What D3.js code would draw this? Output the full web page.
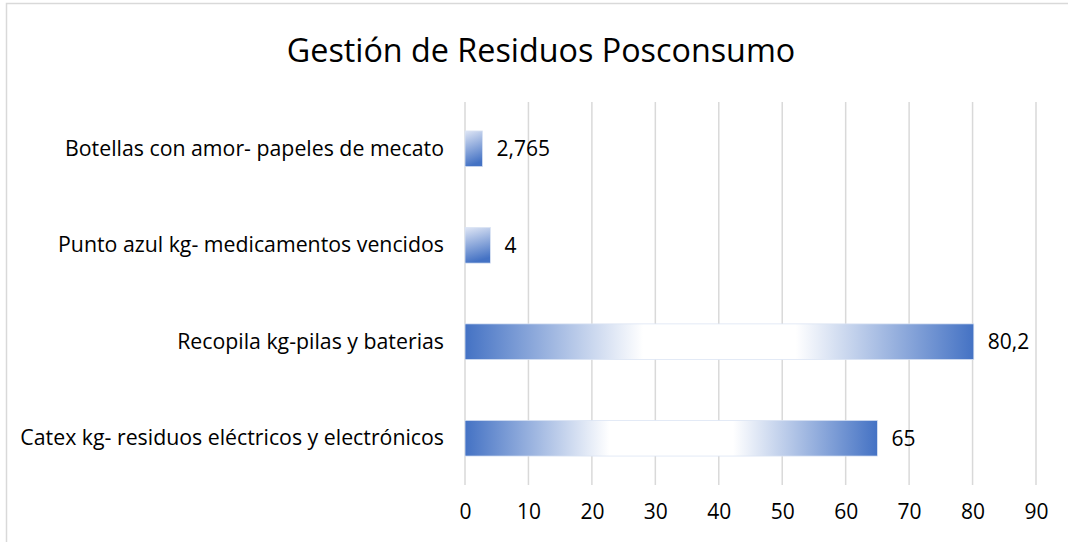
<!DOCTYPE html>
<html>
<head>
<meta charset="utf-8">
<script src="https://cdn.jsdelivr.net/npm/d3@7"></script>
<style>
    body { margin: 0; background: #fff; }
    text { font-family: "Open Sans", sans-serif; fill: #000; }
</style>
</head>
<body>
<div id="vis"></div>
<script>
// Data
var categories = [
    'Botellas con amor- papeles de mecato',
    'Punto azul kg- medicamentos vencidos',
    'Recopila kg-pilas y baterias',
    'Catex kg- residuos eléctricos y electrónicos'
];
var values = [2.765, 4, 80.2, 65];
var xTicks = [0, 10, 20, 30, 40, 50, 60, 70, 80, 90];
var chartTitle = 'Gestión de Residuos Posconsumo';

// Margins of the plot area
var margin = { left: 465, right: 32, top: 102, bottom: 57 };
var totalWidth = 1068, totalHeight = 542;
var width = totalWidth - margin.left - margin.right;
var height = totalHeight - margin.top - margin.bottom;

// Spanish number format: comma as decimal mark
var es = d3.formatLocale({ decimal: ',', thousands: '.', grouping: [3], currency: ['', '€'] });
var fmt = es.format('~g');

var svg = d3.select('#vis')
    .append('svg')
    .attr('width', totalWidth)
    .attr('height', totalHeight);

// Chart border
svg.append('rect')
    .attr('x', 6.5)
    .attr('y', 3.5)
    .attr('width', totalWidth + 10)
    .attr('height', totalHeight + 10)
    .attr('fill', '#fff')
    .attr('stroke', '#d9d9d9')
    .attr('stroke-width', 1.5);

// Gradients: long bars fade to white in the middle, short bars fade vertically
var defs = svg.append('defs');
var gH = defs.append('linearGradient').attr('id', 'gradH')
    .attr('x1', 0).attr('y1', 0).attr('x2', 1).attr('y2', 0);
gH.append('stop').attr('offset', '0%').attr('stop-color', '#4472c4');
gH.append('stop').attr('offset', '35%').attr('stop-color', '#ffffff');
gH.append('stop').attr('offset', '65%').attr('stop-color', '#ffffff');
gH.append('stop').attr('offset', '100%').attr('stop-color', '#4472c4');

var gV = defs.append('linearGradient').attr('id', 'gradV')
    .attr('x1', 0).attr('y1', 0).attr('x2', 0.2).attr('y2', 1);
gV.append('stop').attr('offset', '0%').attr('stop-color', '#dfe6f5');
gV.append('stop').attr('offset', '100%').attr('stop-color', '#4472c4');

// Scales
var xScale = d3.scaleLinear()
    .domain([0, 90])
    .range([0, width]);

var yScale = d3.scaleBand()
    .domain(categories)
    .range([0, height])
    .paddingInner(0.63)
    .paddingOuter(0.3);

var g = svg.append('g')
    .attr('transform', 'translate(' + margin.left + ',' + margin.top + ')');

// Vertical gridlines
g.selectAll('.grid')
    .data(xTicks)
    .enter().append('line')
    .attr('class', 'grid')
    .attr('x1', function(d) { return xScale(d); })
    .attr('x2', function(d) { return xScale(d); })
    .attr('y1', 0)
    .attr('y2', height)
    .attr('stroke', '#d9d9d9')
    .attr('stroke-width', 1.5);

// X axis tick labels
var xAxis = d3.axisBottom(xScale)
    .tickValues(xTicks)
    .tickSize(0)
    .tickPadding(19)
    .tickFormat(d3.format('d'));

var xAxisG = g.append('g')
    .attr('transform', 'translate(0,' + height + ')')
    .call(xAxis);
xAxisG.select('.domain').remove();
xAxisG.selectAll('text')
    .style('font-family', '"Open Sans", sans-serif')
    .style('font-size', '21px')
    .attr('fill', '#000');

// Y axis category labels
var yAxis = d3.axisLeft(yScale)
    .tickSize(0)
    .tickPadding(21);

var yAxisG = g.append('g').call(yAxis);
yAxisG.select('.domain').remove();
yAxisG.selectAll('text')
    .style('font-family', '"Open Sans", sans-serif')
    .style('font-size', '21.3px')
    .attr('fill', '#000');

// Bars
g.selectAll('.bar')
    .data(values)
    .enter().append('rect')
    .attr('class', 'bar')
    .attr('x', xScale(0))
    .attr('y', function(d, i) { return yScale(categories[i]); })
    .attr('width', function(d) { return xScale(d) - xScale(0); })
    .attr('height', yScale.bandwidth())
    .attr('fill', function(d) {
        return (xScale(d) - xScale(0)) > 60 ? 'url(#gradH)' : 'url(#gradV)';
    })
    .attr('stroke', '#dae3f3')
    .attr('stroke-width', 0.75);

// Value labels
g.selectAll('.value')
    .data(values)
    .enter().append('text')
    .attr('class', 'value')
    .attr('x', function(d) { return xScale(d) + 14; })
    .attr('y', function(d, i) { return yScale(categories[i]) + yScale.bandwidth() / 2; })
    .attr('dy', '0.35em')
    .style('font-size', '21px')
    .text(function(d) { return fmt(d); });

// Title
svg.append('text')
    .attr('x', 541)
    .attr('y', 51)
    .attr('dy', '0.35em')
    .attr('text-anchor', 'middle')
    .style('font-size', '32.3px')
    .text(chartTitle);
</script>
</body>
</html>
